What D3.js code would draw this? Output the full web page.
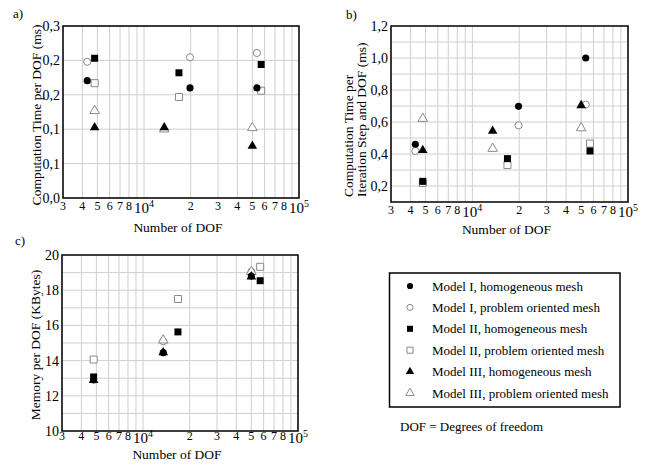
<!DOCTYPE html>
<html>
<head>
<meta charset="utf-8">
<script src="https://cdn.jsdelivr.net/npm/d3@7"></script>
<style>
  body { margin: 0; background: #fff; }
  svg { display: block; }
</style>
</head>
<body>
<svg width="649" height="467"></svg>
<script>
// x axis (shared)
var xTicks = [3e3, 4e3, 5e3, 6e3, 7e3, 8e3, 9e3, 1e4, 2e4, 3e4, 4e4, 5e4, 6e4, 7e4, 8e4, 9e4, 1e5]
var xTickLabels = ["3", "4", "5", "6", "7", "8", "", "10|4", "2", "3", "4", "5", "6", "7", "8", "", "10|5"]

// number of DOF of each model
var dofI = [4300, 19800, 53500]
var dofII = [4800, 16800, 57000]
var dofIII = [4800, 13500, 50000]

// a) computation time per DOF (ms)
var aTicks = [0, 0.05, 0.1, 0.15, 0.2, 0.25]
var aTickLabels = ["0,0", "0,1", "0,1", "0,2", "0,2", "0,3"]
var aIhom = [0.1706, 0.160, 0.160]
var aIpro = [0.198, 0.2045, 0.2108]
var aIIhom = [0.2031, 0.182, 0.194]
var aIIpro = [0.1669, 0.1468, 0.156]
var aIIIhom = [0.1024, 0.1024, 0.0756]
var aIIIpro = [0.1267, 0.100, 0.102]

// b) computation time per iteration step and DOF (ms)
var bTicks = [0.2, 0.4, 0.6, 0.8, 1.0, 1.2]
var bTickLabels = ["0,2", "0,4", "0,6", "0,8", "1,0", "1,2"]
var bIhom = [0.461, 0.698, 1.0]
var bIpro = [0.419, 0.579, 0.709]
var bIIhom = [0.229, 0.371, 0.419]
var bIIpro = [0.219, 0.331, 0.465]
var bIIIhom = [0.423, 0.544, 0.704]
var bIIIpro = [0.621, 0.434, 0.5625]

// c) memory per DOF (KBytes)
var cTicks = [10, 12, 14, 16, 18, 20]
var cTickLabels = ["10", "12", "14", "16", "18", "20"]
var cIhom = [12.9, 14.45, 18.8]      // hidden behind model III
var cIpro = [null, 15.1, 19.05]
var cIIhom = [13.07, 15.63, 18.54]
var cIIpro = [14.06, 17.5, 19.33]
var cIIIhom = [12.88, 14.46, 18.77]
var cIIIpro = [null, 15.16, 19.05]

var legendNames = ["Model I, homogeneous mesh", "Model I, problem oriented mesh",
  "Model II, homogeneous mesh", "Model II, problem oriented mesh",
  "Model III, homogeneous mesh", "Model III, problem oriented mesh"]

var serif = '"Liberation Serif","Times New Roman",serif'
var svg = d3.select("svg")

var shapes = [d3.symbolCircle, d3.symbolCircle, d3.symbolSquare, d3.symbolSquare, d3.symbolTriangle, d3.symbolTriangle]
var sizes = [40, 40, 49, 49, 40, 40]

function marker(g, k, x, y, scale) {
  var open = k % 2 == 1
  g.append("path")
    .attr("d", d3.symbol().type(shapes[k]).size(sizes[k] * (scale || 1))())
    .attr("transform", "translate(" + x + "," + y + ")")
    .attr("fill", open ? "#fff" : "#000")
    .attr("stroke", open ? "#8a8a8a" : "none")
    .attr("stroke-width", 1)
}

function panel(p) {
  var g = svg.append("g")
  var x = d3.scaleLog().domain([3e3, 1e5]).range([p.left, p.right])
  var y = d3.scaleLinear().domain(p.yDomain).range([p.bottom, p.top])

  // grid
  g.append("g").selectAll("line").data(xTicks).enter().append("line")
    .attr("x1", d => x(d)).attr("x2", d => x(d))
    .attr("y1", p.top).attr("y2", p.bottom)
    .attr("stroke", "#cfcfcf").attr("stroke-width", 1)
  g.append("g").selectAll("line").data(p.yGrid).enter().append("line")
    .attr("x1", p.left).attr("x2", p.right)
    .attr("y1", d => y(d)).attr("y2", d => y(d))
    .attr("stroke", "#cfcfcf").attr("stroke-width", 1)

  // x tick labels
  var xt = g.append("g").selectAll("text").data(xTicks).enter().append("text")
    .attr("x", d => x(d))
    .attr("y", p.bottom + p.xLabOff)
    .attr("text-anchor", "middle")
    .style("font-family", serif)
    .style("font-size", "12px")
  xt.each(function(d, i) {
    var lab = xTickLabels[i]
    var t = d3.select(this)
    if (lab.indexOf("|") >= 0) {
      var parts = lab.split("|")
      t.attr("y", p.bottom + p.xLabOff + 3)
      t.append("tspan").text(parts[0]).style("font-size", "15px")
      t.append("tspan").text(parts[1]).style("font-size", "10px").attr("dy", -6)
    } else {
      t.text(lab)
    }
  })

  // y tick labels
  g.append("g").selectAll("text").data(p.yTicks).enter().append("text")
    .text((d, i) => p.yLabels[i])
    .attr("x", p.left - 3)
    .attr("y", d => y(d) + 5)
    .attr("text-anchor", "end")
    .style("font-family", serif)
    .style("font-size", "14px")

  // markers: open ones first
  var order = [1, 3, 5, 0, 2, 4]
  order.forEach(function(k) {
    var s = p.series[k]
    s.vals.forEach(function(v, i) {
      if (v == null) return
      marker(g, k, x(s.dof[i]), y(v))
    })
  })

  // frame
  g.append("rect")
    .attr("x", p.left).attr("y", p.top)
    .attr("width", p.right - p.left).attr("height", p.bottom - p.top)
    .attr("fill", "none").attr("stroke", "#000").attr("stroke-width", 1.5)

  // titles
  g.append("text").text("Number of DOF")
    .attr("x", (p.left + p.right) / 2 - 3).attr("y", p.bottom + p.xTitleOff)
    .attr("text-anchor", "middle")
    .style("font-family", serif).style("font-size", "13.5px")
  p.yTitle.forEach(function(line, i) {
    g.append("text").text(line)
      .attr("transform", "translate(" + p.yTitleX[i] + "," + p.yTitleY + ") rotate(-90)")
      .attr("text-anchor", p.yTitleAnchor)
      .style("font-family", serif).style("font-size", "13.5px")
  })
  g.append("text").text(p.name)
    .attr("x", p.nameX).attr("y", p.nameY)
    .style("font-family", serif).style("font-size", "13px")
}

function range(a, b, step) {
  var out = []
  for (var v = a; v <= b + 1e-9; v += step) out.push(+v.toFixed(3))
  return out
}

panel({
  name: "a)", nameX: 13, nameY: 18,
  left: 63, right: 299, top: 26, bottom: 198, xLabOff: 12, xTitleOff: 34,
  yDomain: [0, 0.25], yTicks: aTicks, yLabels: aTickLabels, yGrid: aTicks,
  yTitle: ["Computation Time per DOF (ms)"], yTitleX: [41], yTitleY: 115, yTitleAnchor: "middle",
  series: [
    {dof: dofI, vals: aIhom}, {dof: dofI, vals: aIpro},
    {dof: dofII, vals: aIIhom}, {dof: dofII, vals: aIIpro},
    {dof: dofIII, vals: aIIIhom}, {dof: dofIII, vals: aIIIpro}
  ]
})

panel({
  name: "b)", nameX: 346, nameY: 19,
  left: 391, right: 628, top: 26, bottom: 202, xLabOff: 12, xTitleOff: 32,
  yDomain: [0.1, 1.2], yTicks: bTicks, yLabels: bTickLabels, yGrid: range(0.2, 1.1, 0.1),
  yTitle: ["Computation Time per", "Iteration Step and DOF (ms)"], yTitleX: [353, 366], yTitleY: 197, yTitleAnchor: "start",
  series: [
    {dof: dofI, vals: bIhom}, {dof: dofI, vals: bIpro},
    {dof: dofII, vals: bIIhom}, {dof: dofII, vals: bIIpro},
    {dof: dofIII, vals: bIIIhom}, {dof: dofIII, vals: bIIIpro}
  ]
})

panel({
  name: "c)", nameX: 15, nameY: 245,
  left: 62, right: 298, top: 255, bottom: 431, xLabOff: 9, xTitleOff: 28,
  yDomain: [10, 20], yTicks: cTicks, yLabels: cTickLabels, yGrid: range(11, 19, 1),
  yTitle: ["Memory per DOF (KBytes)"], yTitleX: [40], yTitleY: 345, yTitleAnchor: "middle",
  series: [
    {dof: dofIII, vals: cIhom}, {dof: dofIII, vals: cIpro},
    {dof: dofII, vals: cIIhom}, {dof: dofII, vals: cIIpro},
    {dof: dofIII, vals: cIIIhom}, {dof: dofIII, vals: cIIIpro}
  ]
})

// legend
var lg = svg.append("g")
lg.append("rect")
  .attr("x", 389.5).attr("y", 273).attr("width", 230.5).attr("height", 134)
  .attr("fill", "none").attr("stroke", "#000").attr("stroke-width", 1.5)
var rowY = d3.scalePoint().domain(d3.range(6)).range([286, 393])
legendNames.forEach(function(name, k) {
  marker(lg, k, 410, rowY(k), 0.75)
  lg.append("text").text(name)
    .attr("x", 432).attr("y", rowY(k) + 4.5)
    .style("font-family", serif).style("font-size", "13px")
})
svg.append("text").text("DOF = Degrees of freedom")
  .attr("x", 400).attr("y", 431)
  .style("font-family", serif).style("font-size", "13px")
</script>
</body>
</html>
